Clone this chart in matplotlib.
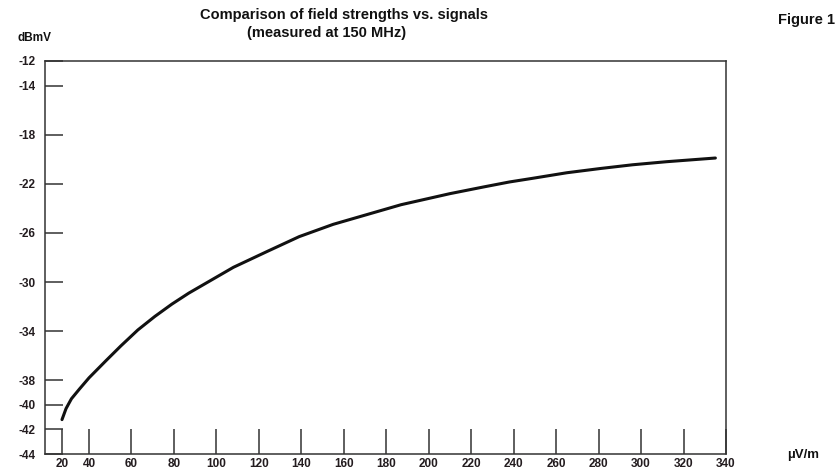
import numpy as np
import matplotlib
matplotlib.use("Agg")
import matplotlib.pyplot as plt

# values (field strength in uV/m, signal in dBmV)
fieldStrength = [20, 23, 27, 33, 40, 48, 55, 63, 71, 79, 87, 95, 108, 124,
                 139, 155, 171, 187, 210, 226, 238, 249, 265, 281, 296, 312,
                 335]
signalLevel = [-41.2, -40.3, -39.5, -38.7, -37.8, -36.4, -35.2, -33.9, -32.8,
               -31.8, -30.9, -30.1, -28.8, -27.5, -26.3, -25.3, -24.5, -23.7,
               -22.8, -22.25, -21.85, -21.55, -21.1, -20.75, -20.45, -20.2,
               -19.9]

xTicks = list(range(20, 341, 20))
yTicks = [-12, -14, -18, -22, -26, -30, -34, -38, -40, -42, -44]

ink = '#231c1f'

# the original axis is squeezed between 20 and 40, then even from 40 on
def fwd(x):
    x = np.asarray(x, dtype=float)
    return np.where(x < 40, (x - 40) * 1.35, (x - 40) * 637 / 300)

def inv(u):
    u = np.asarray(u, dtype=float)
    return np.where(u < 0, u / 1.35 + 40, u * 300 / 637 + 40)

fig = plt.figure(figsize=(8.39, 4.73), dpi=100)
ax = fig.add_axes([45 / 839, 19 / 473, 681 / 839, 393 / 473])

ax.plot(fieldStrength, signalLevel, color='#111111', linewidth=2.2,
        solid_capstyle='round', solid_joinstyle='round')

ax.set_xscale('function', functions=(fwd, inv))
ax.set_xlim(40 - 44 / 1.35, 340)
ax.set_ylim(-44, -12)

ax.set_xticks(xTicks)
ax.set_yticks(yTicks)
ax.set_xticklabels([str(t) for t in xTicks], family='Liberation Sans',
                   fontweight='bold', fontsize=8.5, color=ink)
ax.set_yticklabels([str(t) for t in yTicks], family='Liberation Sans',
                   fontweight='bold', fontsize=8.5, color=ink)
ax.tick_params(axis='x', direction='in', length=18, width=1.1, pad=3,
               color='#333333')
ax.tick_params(axis='y', direction='in', length=13, width=1.1, pad=7,
               color='#333333')

for s in ax.spines.values():
    s.set_linewidth(1.1)
    s.set_color('#333333')

# titles and axis units
fig.text(344 / 839, 1 - 15 / 473, 'Comparison of field strengths vs. signals',
         ha='center', va='center', family='Liberation Sans',
         fontweight='bold', fontsize=10.5, color='#111111')
fig.text(327 / 839, 1 - 33 / 473, '(measured at 150 MHz)',
         ha='center', va='center', family='Liberation Sans',
         fontweight='bold', fontsize=10.5, color='#111111')
fig.text(35 / 839, 1 - 38 / 473, 'dBmV', ha='center', va='center',
         family='Liberation Sans', fontweight='bold', fontsize=8.5,
         color='#111111')
fig.text(835 / 839, 1 - 20 / 473, 'Figure 1', ha='right', va='center',
         family='Liberation Sans', fontweight='bold', fontsize=10.5,
         color='#111111')
fig.text(803 / 839, 1 - 455 / 473, '\u00b5V/m', ha='center', va='center',
         family='Liberation Sans', fontweight='bold', fontsize=9.5,
         color='#111111')

fig.savefig('out.png', dpi=100)
